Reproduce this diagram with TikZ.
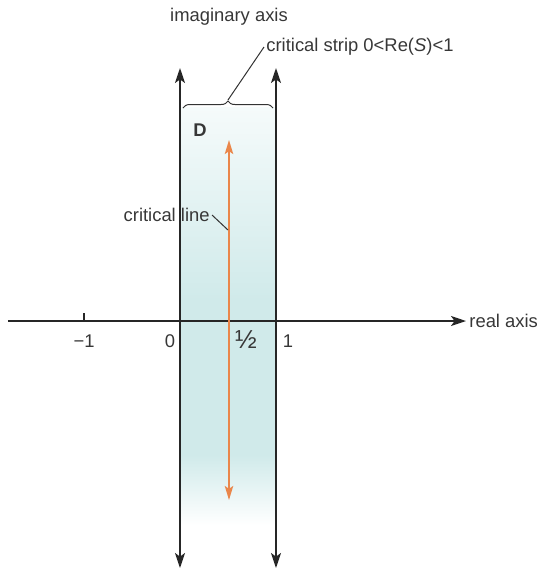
\documentclass[tikz,border=0pt]{standalone}
\usepackage{fontspec}
\setmainfont{Liberation Sans}
\usetikzlibrary{arrows.meta,positioning,calc,decorations.pathreplacing}
\definecolor{stripteal}{RGB}{208,234,234}
\definecolor{critorange}{RGB}{234,134,74}
\definecolor{labelgray}{RGB}{55,55,55}

\begin{document}
\begin{tikzpicture}[
  x=0.5pt, y=-0.5pt,
  font=\fontsize{9.2}{11}\selectfont,
  >={Stealth[length=7.5pt,width=5pt,inset=1.8pt]},
  axis/.style={line width=0.75pt, draw=black!85},
  critline/.style={line width=0.8pt, draw=critorange,
                   >={Stealth[length=7pt,width=4.2pt,inset=1.4pt]}},
  lbl/.style={text=labelgray, inner sep=1pt},
  leader/.style={line width=0.5pt, draw=black!80}
]
\useasboundingbox (0,0) rectangle (543,575);

% Shaded critical strip
\shade[top color=stripteal!20, bottom color=stripteal] (180,107) rectangle (276,300);
\fill[stripteal] (180,299) rectangle (276,456);
\shade[top color=stripteal, bottom color=white] (180,455) rectangle (276,525);

% Axes
\coordinate (xstart) at (8,321);
\coordinate (xend) at (466,321);
\coordinate (lbot) at (180,568);
\coordinate (ltop) at (180,68);
\coordinate (rbot) at (276,568);
\coordinate (rtop) at (276,68);
\draw[axis,->] (xstart) -- (xend);
\draw[axis,<->] (lbot) -- (ltop);
\draw[axis,<->] (rbot) -- (rtop);
\draw[axis] (84,313) -- (84,321);

% Critical line
\coordinate (cbot) at (229,500);
\coordinate (ctop) at (229,140);
\draw[critline,<->] (cbot) -- (ctop);

% Labels on the axes
\node[lbl] (imag) at (229,17) {imaginary axis};
\node[lbl, anchor=west] (real) at (467,321) {real axis};
\node[lbl] (mone) at (84,341) {−1};
\node[lbl] (zero) at (170,341) {0};
\node[lbl, font=\fontsize{13}{14}\selectfont] (half) at (246,340) {½};
\node[lbl] (one) at (288,341) {1};
\node[lbl, font=\fontsize{9.2}{11}\selectfont\bfseries] (dom) at (200,130) {D};

% Critical strip brace
\draw[leader, decorate, decoration={brace, amplitude=3.5pt}]
  (183,108) -- (273,108) coordinate[pos=0.5] (bmid);
\coordinate (btip) at (228,100);
\node[lbl, anchor=west] (strip) at (264,47) {critical strip 0<Re(\textit{S})<1};
\draw[leader] (btip) -- (strip.west);

% Critical line label
\node[lbl, anchor=east] (cl) at (212,215) {critical line};
\coordinate (clpt) at (228,230);
\draw[leader] (cl.east) -- (clpt);

\end{tikzpicture}
\end{document}
